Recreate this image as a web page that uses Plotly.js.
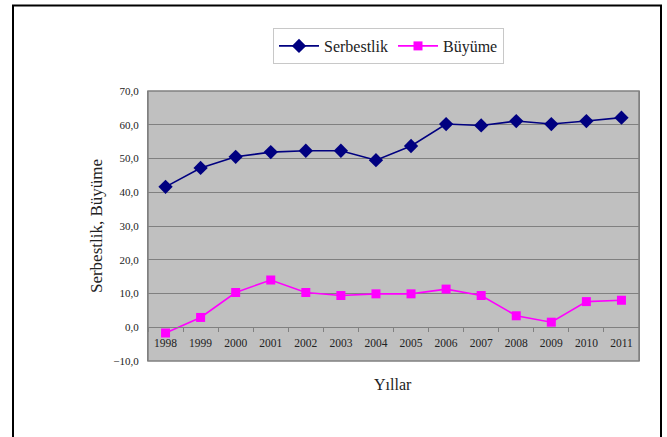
<!DOCTYPE html>
<html>
<head>
<meta charset="utf-8">
<script src="https://cdn.plot.ly/plotly-3.0.1.min.js"></script>
<style>
html,body{margin:0;padding:0;background:#fff;}
#chart{width:667px;height:437px;}
</style>
</head>
<body>
<div id="chart"></div>
<script>
const years = ["1998","1999","2000","2001","2002","2003","2004","2005","2006","2007","2008","2009","2010","2011"];
const serbestlik = [41.6, 47.2, 50.5, 51.9, 52.3, 52.3, 49.5, 53.7, 60.2, 59.8, 61.1, 60.2, 61.1, 62.1];
const buyume = [-1.7, 2.9, 10.3, 14.0, 10.3, 9.4, 9.9, 9.9, 11.3, 9.4, 3.4, 1.5, 7.6, 8.0];
const yTicks = [-10, 0, 10, 20, 30, 40, 50, 60, 70];

const serif = "Liberation Serif, serif";
const L = 148, R = 639, T = 91, B = 361;
const px = x => (x - L) / (R - L);
const py = y => (B - y) / (B - T);

const traces = [
  {
    x: years, y: serbestlik, name: "Serbestlik", type: "scatter", mode: "lines+markers",
    line: {color: "#000080", width: 1.6},
    marker: {symbol: "diamond", size: 11, color: "#000080"}
  },
  {
    x: years, y: buyume, name: "Büyüme", type: "scatter", mode: "lines+markers",
    line: {color: "#ff00ff", width: 1.6},
    marker: {symbol: "square", size: 9, color: "#ff00ff"}
  }
];

const layout = {
  width: 667, height: 437,
  margin: {l: L, r: 667 - R, t: T, b: 437 - B, pad: 0},
  paper_bgcolor: "#ffffff",
  plot_bgcolor: "#c0c0c0",
  font: {family: serif, color: "#222"},
  showlegend: true,
  legend: {
    orientation: "h", x: px(273), y: py(28), xanchor: "left", yanchor: "top",
    bgcolor: "#ffffff", bordercolor: "#c8c8c8", borderwidth: 1,
    font: {family: serif, size: 16, color: "#222"},
    itemwidth: 40, tracegroupgap: 0
  },
  xaxis: {
    type: "category",
    range: [-0.5, 13.5],
    anchor: "free", position: 0.125,
    showline: true, linecolor: "#808080", linewidth: 1,
    ticks: "outside", tickson: "boundaries", ticklen: 4, tickcolor: "#808080",
    ticklabelstandoff: 5,
    showgrid: false, zeroline: false,
    tickfont: {family: serif, size: 11.5, color: "#222"},
    fixedrange: true
  },
  yaxis: {
    range: [-10, 70],
    tickvals: yTicks,
    tickformat: ".1f",
    showgrid: true, gridcolor: "#808080", gridwidth: 1,
    zeroline: false,
    showline: true, mirror: true, linecolor: "#808080", linewidth: 1,
    ticks: "", ticklen: 0,
    ticklabelstandoff: 6,
    tickfont: {family: serif, size: 11, color: "#222"},
    title: {text: "Serbestlik, Büyüme", font: {family: serif, size: 17, color: "#222"}, standoff: 6},
    fixedrange: true
  },
  separators: ",.",
  annotations: [
    {
      text: "Yıllar", xref: "paper", yref: "paper", x: px(393), y: py(384),
      xanchor: "center", yanchor: "middle", showarrow: false,
      font: {family: serif, size: 16, color: "#222"}
    }
  ],
  shapes: [
    {type: "rect", xref: "paper", yref: "paper", x0: 0, x1: 1, y0: 0, y1: 1,
     line: {color: "#808080", width: 1.5}, fillcolor: "rgba(0,0,0,0)", layer: "above"},
    {type: "line", xref: "paper", yref: "paper", x0: px(13), x1: px(13), y0: py(5), y1: py(445),
     line: {color: "#000", width: 2}},
    {type: "line", xref: "paper", yref: "paper", x0: px(661), x1: px(661), y0: py(5), y1: py(445),
     line: {color: "#000", width: 2}},
    {type: "line", xref: "paper", yref: "paper", x0: px(12), x1: px(662), y0: py(5.5), y1: py(5.5),
     line: {color: "#000", width: 2}}
  ]
};

Plotly.newPlot("chart", traces, layout, {displayModeBar: false, staticPlot: true});
</script>
</body>
</html>
